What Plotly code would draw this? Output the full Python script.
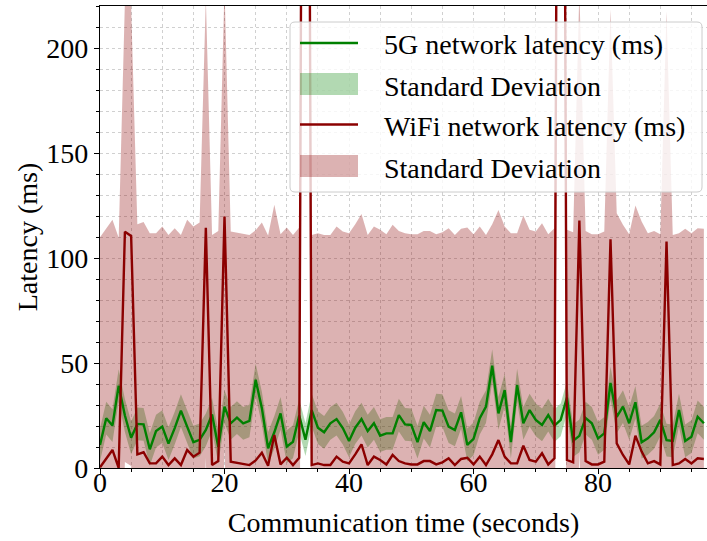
import numpy as np
import plotly.graph_objects as go

# Per-second latency samples (ms)
seconds = list(range(98))

latency_5g = [
    11.0, 23.7, 20.2, 39.2, 25.0, 14.4, 21.0, 20.8, 8.9, 17.6,
    19.7, 11.6, 19.0, 27.3, 19.7, 12.3, 13.4, 18.1, 25.5, 10.0,
    29.2, 21.3, 24.0, 21.3, 22.4, 42.0, 28.5, 9.4, 17.0, 26.0,
    10.2, 12.5, 25.0, 13.5, 27.6, 19.2, 17.0, 21.3, 23.3, 19.0,
    12.9, 19.2, 23.3, 17.6, 21.3, 15.4, 16.5, 16.5, 25.2, 20.8,
    20.5, 12.3, 21.8, 17.6, 27.6, 27.3, 19.7, 18.1, 26.5, 11.0,
    13.9, 23.7, 29.2, 48.7, 26.0, 37.1, 12.3, 39.5, 21.3, 27.6,
    22.9, 20.5, 25.2, 20.2, 22.9, 33.5, 13.0, 15.3, 23.8, 21.3,
    14.1, 16.5, 40.5, 24.4, 29.2, 21.3, 31.3, 12.3, 14.1, 17.0,
    22.9, 13.3, 12.9, 27.6, 12.9, 14.9, 24.4, 21.3,
]

latency_wifi = [
    0.3, 4.6, 8.6, 0.0, 112.5, 110.5, 6.5, 7.5, 2.2, 2.2,
    5.4, 1.4, 4.6, 1.4, 8.6, 5.4, 7.3, 114.4, 1.4, 3.3,
    119.7, 3.0, 2.5, 1.9, 1.4, 3.6, 7.3, 1.1, 15.7, 1.7,
    4.9, 1.4, 4.9, 770.0, 1.4, 2.2, 1.4, 1.4, 5.4, 3.0,
    2.2, 6.5, 11.3, 1.4, 5.4, 3.8, 1.7, 6.2, 3.3, 2.2,
    1.7, 1.7, 3.3, 3.3, 1.7, 2.7, 4.6, 1.4, 4.3, 4.9,
    1.7, 5.4, 1.4, 6.5, 13.3, 5.4, 2.2, 2.2, 10.6, 3.8,
    3.0, 7.0, 1.7, 4.6, 770.0, 3.8, 2.7, 117.8, 3.3, 1.7,
    1.7, 3.0, 108.9, 11.7, 6.2, 1.7, 15.4, 7.8, 2.2, 3.3,
    1.7, 107.8, 1.4, 2.2, 4.3, 2.2, 4.6, 4.3,
]

# Standard deviation of each series (ms)
std_5g = 7.8
std_wifi = 109.6

legend_labels = [
    "5G network latency (ms)",
    "Standard Deviation",
    "WiFi network latency (ms)",
    "Standard Deviation",
]

t = np.array(seconds)
g = np.array(latency_5g)
w = np.array(latency_wifi)

GREEN = "rgb(0,128,0)"
DARKRED = "rgb(139,0,0)"
GREEN_FILL = "rgba(0,128,0,0.3)"
RED_FILL = "rgba(139,0,0,0.3)"
FONT = "Liberation Serif, Times New Roman, serif"
LW = 2.4

fig = go.Figure()

# 5G band
fig.add_trace(go.Scatter(x=t, y=g - std_5g, mode="lines", line=dict(width=0),
                         showlegend=False, hoverinfo="skip"))
fig.add_trace(go.Scatter(x=t, y=g + std_5g, mode="lines", line=dict(width=0),
                         fill="tonexty", fillcolor=GREEN_FILL,
                         name=legend_labels[1], showlegend=False))

# WiFi band
fig.add_trace(go.Scatter(x=t, y=w - std_wifi, mode="lines", line=dict(width=0),
                         showlegend=False, hoverinfo="skip"))
fig.add_trace(go.Scatter(x=t, y=w + std_wifi, mode="lines", line=dict(width=0),
                         fill="tonexty", fillcolor=RED_FILL,
                         name=legend_labels[3], showlegend=False))

# Mean latency lines
fig.add_trace(go.Scatter(x=t, y=g, mode="lines", line=dict(color=GREEN, width=LW),
                         name=legend_labels[0], showlegend=False))
fig.add_trace(go.Scatter(x=t, y=w, mode="lines", line=dict(color=DARKRED, width=LW),
                         name=legend_labels[2], showlegend=False))

# ---- legend box (pixel layout converted to paper coordinates) ----
PLOT_L, PLOT_R, PLOT_T, PLOT_B = 100, 707, 6, 468


def px(xp):
    return (xp - PLOT_L) / (PLOT_R - PLOT_L)


def py(yp):
    return (PLOT_B - yp) / (PLOT_B - PLOT_T)


bx0, bx1, by0, by1, rad = 290, 702, 22, 192, 5
rx, ry = rad / (PLOT_R - PLOT_L), rad / (PLOT_B - PLOT_T)
X0, X1, Y0, Y1 = px(bx0), px(bx1), py(by1), py(by0)
box_path = (
    f"M{X0 + rx},{Y0} L{X1 - rx},{Y0} Q{X1},{Y0} {X1},{Y0 + ry} "
    f"L{X1},{Y1 - ry} Q{X1},{Y1} {X1 - rx},{Y1} "
    f"L{X0 + rx},{Y1} Q{X0},{Y1} {X0},{Y1 - ry} "
    f"L{X0},{Y0 + ry} Q{X0},{Y0} {X0 + rx},{Y0} Z"
)
shapes = [dict(type="path", path=box_path, xref="paper", yref="paper",
               fillcolor="rgba(255,255,255,0.8)", line=dict(color="#cccccc", width=1),
               layer="above")]

row_y = [43, 84, 124.5, 166]
handle_x0, handle_x1, text_x = 300, 358, 382
handles = [("line", GREEN), ("patch", GREEN_FILL), ("line", DARKRED), ("patch", RED_FILL)]
annotations = []
for (kind, col), yc, label in zip(handles, row_y, legend_labels):
    if kind == "line":
        shapes.append(dict(type="line", xref="paper", yref="paper",
                           x0=px(handle_x0), x1=px(handle_x1), y0=py(yc), y1=py(yc),
                           line=dict(color=col, width=LW), layer="above"))
    else:
        shapes.append(dict(type="rect", xref="paper", yref="paper",
                           x0=px(handle_x0), x1=px(handle_x1),
                           y0=py(yc + 11), y1=py(yc - 11),
                           fillcolor=col, line=dict(width=0), layer="above"))
    annotations.append(dict(text=label, xref="paper", yref="paper",
                            x=px(text_x), y=py(yc + 2), xanchor="left", yanchor="middle",
                            showarrow=False, font=dict(family=FONT, size=28, color="black")))

GRID = "rgba(170,170,170,0.55)"

fig.update_layout(
    width=707, height=541,
    margin=dict(l=PLOT_L, r=707 - PLOT_R, t=PLOT_T, b=541 - PLOT_B),
    paper_bgcolor="white", plot_bgcolor="white",
    font=dict(family=FONT, size=28, color="black"),
    showlegend=False,
    shapes=shapes,
    annotations=annotations,
)

fig.update_xaxes(
    range=[0, 97.5], tick0=0, dtick=20,
    showline=True, linecolor="black", linewidth=1.3, mirror=True,
    ticks="outside", ticklen=5, tickwidth=1.3, tickcolor="black",
    ticklabelposition="outside", ticklabelstandoff=-16,
    showgrid=True, gridcolor=GRID, griddash="dot", gridwidth=0.8,
    zeroline=False,
    tickfont=dict(family=FONT, size=28, color="black"),
    minor=dict(dtick=5, ticks="outside", ticklen=3, tickwidth=1, tickcolor="black",
               showgrid=True, gridcolor=GRID, griddash="dot", gridwidth=0.8),
    title=dict(text="Communication time (seconds)",
               font=dict(family=FONT, size=28, color="black"), standoff=15),
)
fig.update_yaxes(
    range=[0, 220], tick0=0, dtick=50,
    showline=True, linecolor="black", linewidth=1.3,
    ticks="outside", ticklen=5, tickwidth=1.3, tickcolor="black",
    showgrid=True, gridcolor=GRID, griddash="dot", gridwidth=0.8,
    zeroline=False,
    tickfont=dict(family=FONT, size=28, color="black"),
    minor=dict(dtick=10, ticks="outside", ticklen=3, tickwidth=1, tickcolor="black",
               showgrid=True, gridcolor=GRID, griddash="dot", gridwidth=0.8),
    title=dict(text="Latency (ms)", font=dict(family=FONT, size=28, color="black"),
               standoff=0),
)

fig.write_html("out.html")
